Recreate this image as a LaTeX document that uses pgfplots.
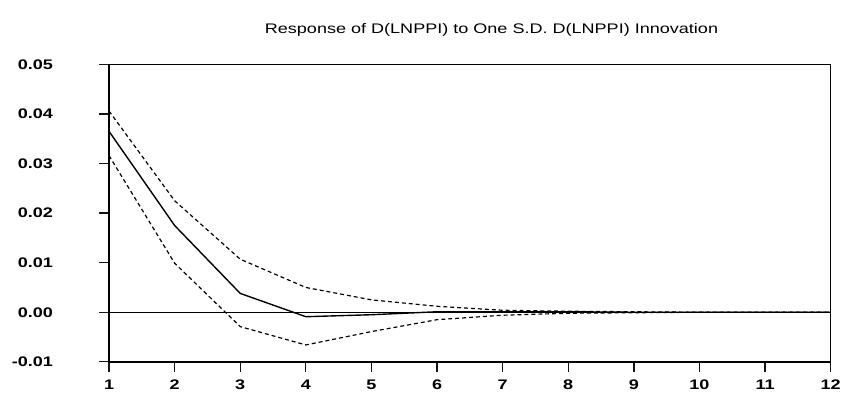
\documentclass[border=0pt]{standalone}
\usepackage{fontspec}
\setmainfont{Liberation Sans}
\newfontfamily\widefont{Liberation Sans}[FakeStretch=1.3]
\usepackage{pgfplots}
\pgfplotsset{compat=1.18}
\definecolor{inkblack}{RGB}{20,20,20}

\begin{document}
\begin{tikzpicture}
\begin{axis}[
  width=728pt, height=300pt, scale only axis,
  xmin=1, xmax=12, ymin=-0.01, ymax=0.05,
  xtick={1,...,12},
  ytick={-0.01,0,0.01,0.02,0.03,0.04,0.05},
  scaled y ticks=false,
  axis line style={line width=1.4pt},
  major tick style={draw=inkblack, line width=1.3pt},
  tick align=outside,
  major tick length=10pt,
  xtick pos=left, ytick pos=left,
  /pgf/number format/assume math mode=true,
  y tick label style={/pgf/number format/fixed, /pgf/number format/fixed zerofill, /pgf/number format/precision=2},
  yticklabel style={font=\widefont\fontsize{14}{14}\selectfont\bfseries, xshift=-43pt},
  xticklabel style={font=\widefont\fontsize{14}{14}\selectfont\bfseries, yshift=-5pt},
  title={Response of D(LNPPI) to One S.D. D(LNPPI) Innovation},
  title style={font=\widefont\fontsize{14}{14}\selectfont, at={(axis description cs:0.53,1)}, anchor=south, yshift=19pt},
]
% zero line
\addplot[black, line width=1.1pt] coordinates {(1,0) (12,0)};
% upper band
\addplot[black, line width=1.2pt, dash pattern=on 4pt off 3pt] coordinates {
  (1,0.0406) (2,0.0225) (3,0.0107) (4,0.0050) (5,0.0025) (6,0.0012)
  (7,0.0004) (8,0.0002) (9,0.0001) (10,0) (11,0) (12,0)};
% lower band
\addplot[black, line width=1.2pt, dash pattern=on 4pt off 3pt] coordinates {
  (1,0.0316) (2,0.0099) (3,-0.0029) (4,-0.0066) (5,-0.0039) (6,-0.0015)
  (7,-0.0006) (8,-0.0002) (9,-0.0001) (10,0) (11,0) (12,0)};
% response
\addplot[black, line width=1.4pt] coordinates {
  (1,0.0365) (2,0.0175) (3,0.0038) (4,-0.0009) (5,-0.0005) (6,0.0001)
  (7,0.0001) (8,0.0001) (9,0) (10,0) (11,0) (12,0)};
\end{axis}
\useasboundingbox (-110pt,-29pt) rectangle (734pt,365pt);
\end{tikzpicture}
\end{document}
